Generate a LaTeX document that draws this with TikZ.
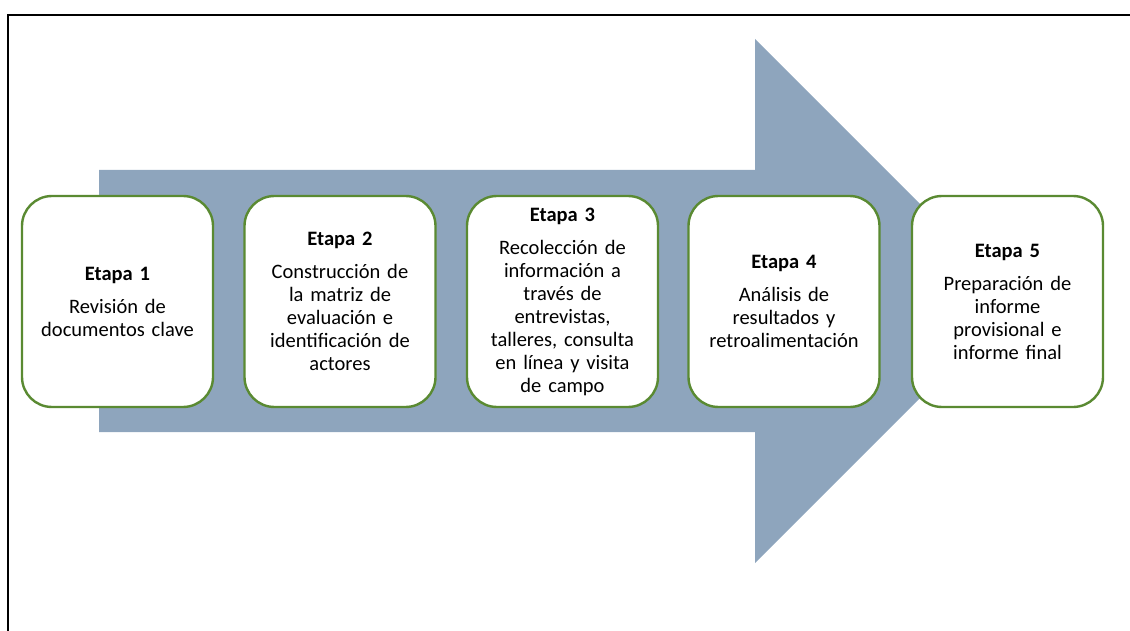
\documentclass[tikz,border=0pt]{standalone}
\usepackage{fontspec}
\setmainfont{Carlito}
\definecolor{arrowblue}{HTML}{8EA5BD}
\definecolor{boxgreen}{HTML}{5A8A32}
\begin{document}
\begin{tikzpicture}[x=1pt,y=1pt,
  stagebox/.style={draw=boxgreen, line width=2.4pt, fill=white, rounded corners=30pt,
    minimum width=191pt, minimum height=211pt, inner sep=0pt, align=center,
    font=\fontsize{20.5}{23}\selectfont, text width=189pt},
  frameline/.style={line width=2.6pt, black}]
\useasboundingbox (0,0) rectangle (1130,-631);
\clip (0,0) rectangle (1130,-631);
% frame
\coordinate (fbl) at (8,-640);
\coordinate (ftl) at (8,-15);
\coordinate (ftr) at (1140,-15);
\draw[frameline] (fbl) -- (ftl) -- (ftr);
% big arrow
\fill[arrowblue] (99,-170) -- (755,-170) -- (755,-39) -- (1017,-301) -- (755,-563) -- (755,-432) -- (99,-432) -- cycle;
% stages
\node[stagebox] (s1) at (117.5,-301.5) {\textbf{Etapa 1}\\[10pt]Revisión de\\documentos clave};
\node[stagebox] (s2) at (340,-301.5) {\textbf{Etapa 2}\\[10pt]Construcción de\\la matriz de\\evaluación e\\identificación de\\actores};
\node[stagebox] (s3) at (562.5,-301.5) {\textbf{Etapa 3}\\[10pt]Recolección de\\información a\\través de\\entrevistas,\\talleres, consulta\\en línea y visita\\de campo};
\node[stagebox] (s4) at (784,-301.5) {\textbf{Etapa 4}\\[10pt]Análisis de\\resultados y\\retroalimentación};
\node[stagebox] (s5) at (1007.5,-301.5) {\textbf{Etapa 5}\\[10pt]Preparación de\\informe\\provisional e\\informe final};
\end{tikzpicture}
\end{document}
